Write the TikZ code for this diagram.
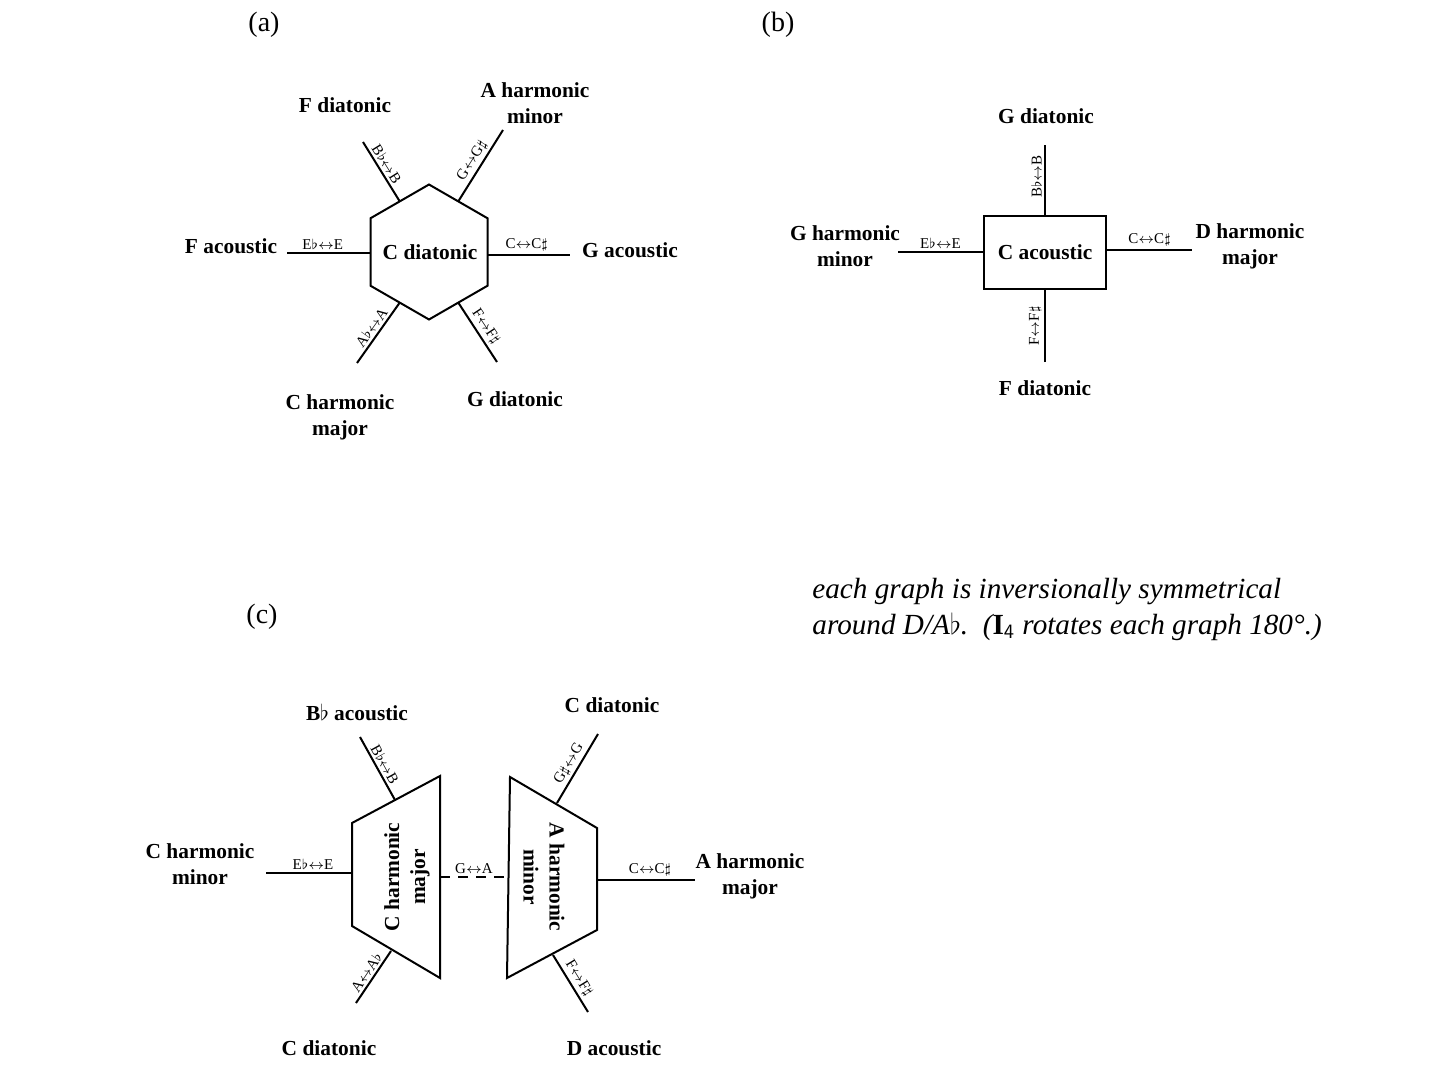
\documentclass[tikz,border=0pt]{standalone}
\usepackage{fontspec}
\setmainfont{Liberation Serif}
\newcommand{\flt}{$\flat$}
\newcommand{\shp}{$\sharp$}
\newcommand{\swp}{${\leftrightarrow}$}
\tikzset{
  lbl/.style={font=\fontsize{10.7}{13}\selectfont\bfseries, align=center, inner sep=0.75pt},
  elbl/.style={font=\fontsize{7.5}{9}\selectfont, inner sep=1.2pt},
  tilt/.style={elbl, rotate=#1, anchor=south},
  tag/.style={font=\fontsize{14}{16}\selectfont, inner sep=0.75pt},
  spoke/.style={line width=1pt},
  outline/.style={line width=1pt, line join=miter}
}
\begin{document}
\begin{tikzpicture}[x=0.5pt,y=0.5pt,yscale=-1,xscale=1]
\useasboundingbox (0,0) rectangle (1452,1065);

% Text Node
\node[tag] (taga) at (264,25) {(a)};
% Text Node
\node[tag] (tagb) at (778,25) {(b)};
% Text Node
\node[tag] (tagc) at (262,617) {(c)};

%%%%% (a)
%Shape: Hexagon
\draw[outline] (429,184.5) -- (487.5,218.25) -- (487.5,285.75) -- (429,319.5) -- (370.5,285.75) -- (370.5,218.25) -- cycle;
\node[lbl] (cdia) at (430,252) {C diatonic};
% Text Node
\node[lbl] (facou) at (231,246) {F acoustic};
\node[lbl] (gacou) at (630,250) {G acoustic};
\node[lbl] (fdia) at (345,105) {F diatonic};
\node[lbl] (ahmin) at (535,103) {A harmonic\\minor};
\node[lbl] (chmaj) at (340,417) {C harmonic\\major};
\node[lbl] (gdia) at (515,399) {G diatonic};
% Spoke ends
\coordinate (aw0) at (370.5,253); \coordinate (aw1) at (287,253);
\coordinate (ae0) at (487.5,255); \coordinate (ae1) at (570,255);
\coordinate (anw0) at (399.75,201.4); \coordinate (anw1) at (363,142);
\coordinate (ane0) at (458.25,201.4); \coordinate (ane1) at (503,130);
\coordinate (asw0) at (399.75,302.6); \coordinate (asw1) at (357,363);
\coordinate (ase0) at (458.25,302.6); \coordinate (ase1) at (497,362);
%Straight Lines
\draw[spoke] (aw1) -- (aw0) node[midway, above, elbl, xshift=-3pt] {E\flt\swp E};
\draw[spoke] (ae0) -- (ae1) node[midway, above, elbl, xshift=-1pt] {C\swp C\shp};
\draw[spoke] (anw1) -- (anw0) node[pos=0.45, tilt=-58] {B\flt\swp B};
\draw[spoke] (ane0) -- (ane1) node[midway, tilt=57.6] {G\swp G\shp};
\draw[spoke] (asw1) -- (asw0) node[midway, tilt=54.4] {A\flt\swp A};
\draw[spoke] (ase0) -- (ase1) node[midway, tilt=-56.5] {F\swp F\shp};

%%%%% (b)
%Shape: Rectangle
\node[draw, outline, lbl, minimum width=61pt, minimum height=36.5pt] (cacou) at (1045,252.5) {C acoustic};
% Text Node
\node[lbl] (gdiab) at (1046,116) {G diatonic};
\node[lbl] (fdiab) at (1045,388) {F diatonic};
\node[lbl] (ghmin) at (845,246) {G harmonic\\minor};
\node[lbl] (dhmaj) at (1250,246) {D harmonic\\major};
% Spoke ends
\coordinate (bn1) at (1045,145);
\coordinate (bs1) at (1045,362);
\coordinate (bw1) at (898,252);
\coordinate (be1) at (1192,250);
%Straight Lines
\draw[spoke] (cacou.north) -- (bn1) node[pos=0.55, tilt=90] {B\flt\swp B};
\draw[spoke] (bs1) -- (cacou.south) node[midway, tilt=90] {F\swp F\shp};
\draw[spoke] (bw1) -- (bw1 -| cacou.west) node[midway, above, elbl] {E\flt\swp E};
\draw[spoke] (be1 -| cacou.east) -- (be1) node[midway, above, elbl] {C\swp C\shp};

%%%%% (c)
%Shape: Trapezoid left
\draw[outline] (352,823) -- (440,776) -- (440,978) -- (352,926) -- cycle;
\node[lbl, rotate=90] (chmajc) at (407,877) {C harmonic\\major};
%Shape: Trapezoid right
\draw[outline] (510,777) -- (597,828) -- (597,930) -- (507,978) -- cycle;
\node[lbl, rotate=-90] (ahminc) at (544,877) {A harmonic\\minor};
% Text Node
\node[lbl] (bbacou) at (357,712) {B\flt{} acoustic};
\node[lbl] (cdiac) at (612,705) {C diatonic};
\node[lbl] (chmin) at (200,864) {C harmonic\\minor};
\node[lbl] (ahmaj) at (750,876) {A harmonic\\major};
\node[lbl] (cdiad) at (329,1048) {C diatonic};
\node[lbl] (dacou) at (614,1048) {D acoustic};
% Spoke ends
\coordinate (cw0) at (352,873); \coordinate (cw1) at (266,873);
\coordinate (cm0) at (440,877); \coordinate (cm1) at (508,877);
\coordinate (ce0) at (597,880); \coordinate (ce1) at (695,880);
\coordinate (cnw0) at (395,800); \coordinate (cnw1) at (360,737);
\coordinate (csw0) at (391,951); \coordinate (csw1) at (356,1003);
\coordinate (cne0) at (557,803); \coordinate (cne1) at (598,734);
\coordinate (cse0) at (553,955); \coordinate (cse1) at (588,1012);
%Straight Lines
\draw[spoke] (cw1) -- (cw0) node[midway, above, elbl, xshift=2pt] {E\flt\swp E};
\draw[spoke, dash pattern=on 5pt off 4pt] (cm0) -- (cm1) node[midway, above, elbl] {G\swp A};
\draw[spoke] (ce0) -- (ce1) node[midway, above, elbl, xshift=2pt] {C\swp C\shp};
\draw[spoke] (cnw1) -- (cnw0) node[midway, tilt=-61] {B\flt\swp B};
\draw[spoke] (csw1) -- (csw0) node[midway, tilt=56] {A\swp A\flt};
\draw[spoke] (cne0) -- (cne1) node[midway, tilt=59.3] {G\shp\swp G};
\draw[spoke] (cse0) -- (cse1) node[midway, tilt=-58.4] {F\swp F\shp};

% Text Node
\node[anchor=north west, align=left, inner sep=0pt, font=\fontsize{14.6}{18}\selectfont\itshape] (note) at (812,578) {each graph is inversionally symmetrical\\around D/A$\flat$.\ \ (\textbf{\upshape I}$_{\mathsf{4}}$ rotates each graph 180°.)};
\end{tikzpicture}
\end{document}
